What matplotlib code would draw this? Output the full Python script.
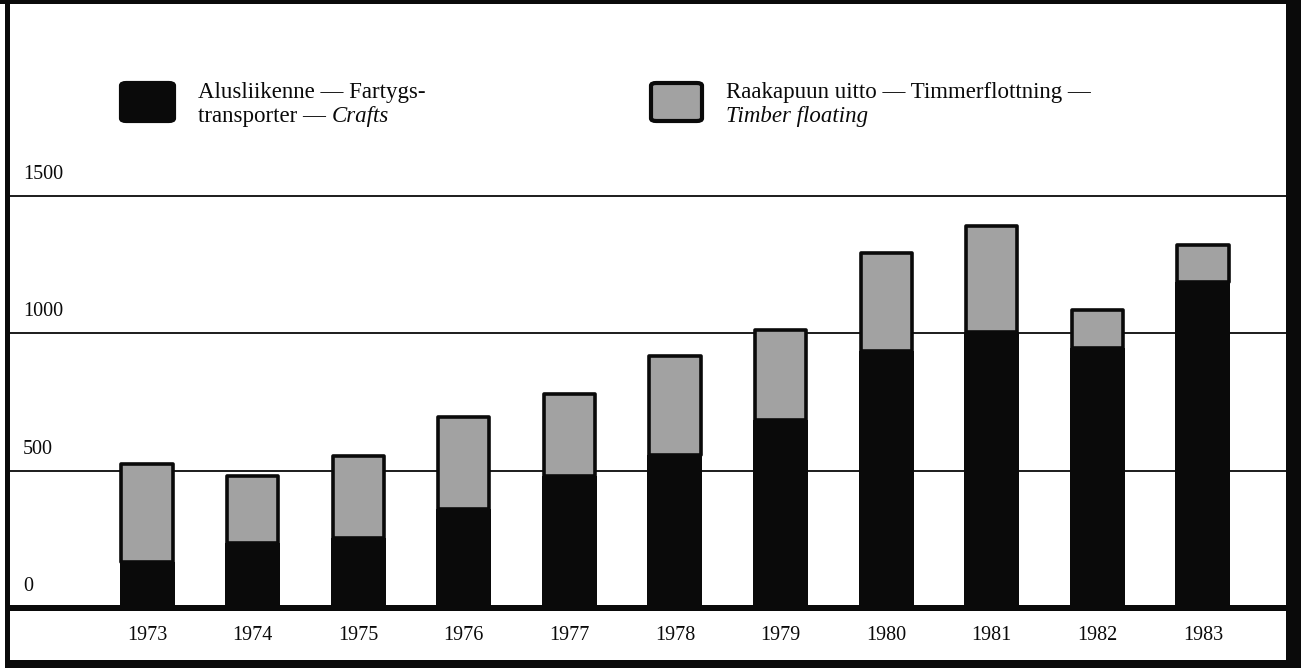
import matplotlib
matplotlib.use("Agg")
import matplotlib.pyplot as plt
from matplotlib.patches import Rectangle, FancyBboxPatch
from matplotlib.transforms import blended_transform_factory

# ---- data ----
years = ["1973", "1974", "1975", "1976", "1977", "1978", "1979", "1980", "1981", "1982", "1983"]
crafts = [169, 237, 254, 361, 479, 558, 683, 936, 1004, 947, 1189]
timber = [361, 251, 305, 340, 307, 367, 336, 364, 392, 145, 138]
yticks = [0, 500, 1000, 1500]
label_crafts = ["Alusliikenne — Fartygs-", "transporter — ", "Crafts"]
label_timber = ["Raakapuun uitto — Timmerflottning —", "Timber floating"]

W, H = 1301, 668
DPI = 100
plt.rcParams["font.family"] = ["Liberation Serif", "DejaVu Serif"]

BLACK = "#0a0a0a"
GREY = "#a2a2a2"

fig = plt.figure(figsize=(W / DPI, H / DPI), dpi=DPI)
fig.patch.set_facecolor("white")

def fx(px):
    return px / W

def fy(py):
    return 1 - py / H

# main axes: x pixels 9..1286, y pixels 4..608 (zero at 608)
ax_l, ax_r, ax_t, ax_b = 9, 1286, 4, 608
ax = fig.add_axes([fx(ax_l), fy(ax_b), fx(ax_r - ax_l), (ax_b - ax_t) / H])
ax.set_facecolor("none")
for s in ax.spines.values():
    s.set_visible(False)
ax.set_xticks([])
ax.set_yticks([])

px_per_unit = 137.3 / 500
ax.set_ylim(0, (ax_b - ax_t) / px_per_unit)
step = 105.6
c0 = 147
ax.set_xlim((ax_l - c0) / step, (ax_r - c0) / step)

# gridlines
for v in yticks[1:]:
    ax.axhline(v, color=BLACK, lw=1.3, zorder=1)

x = list(range(len(years)))
bw_px = 55
bw = bw_px / step
edge_pt = 2.6
edge_px = edge_pt * DPI / 72
ax.bar(x, crafts, width=bw, color=BLACK, edgecolor=BLACK, lw=0, zorder=3)
# keep the outlined grey segment inside the same bar outline
grey_h = [t - (edge_px / 2) / px_per_unit for t in timber]
ax.bar(x, grey_h, bottom=crafts, width=(bw_px - edge_px) / step, color=GREY,
       edgecolor=BLACK, lw=edge_pt, joinstyle="round", zorder=4)

# y labels
tr = blended_transform_factory(fig.transFigure, ax.transData)
for v in yticks:
    ax.annotate(str(v), xy=(fx(23), v), xycoords=tr, xytext=(0, 17),
                textcoords="offset pixels", ha="left", va="baseline",
                fontsize=14.5, color=BLACK)

# year labels
for i, yl in enumerate(years):
    ax.annotate(yl, xy=(i, 0), xycoords="data", xytext=(0, -27),
                textcoords="offset pixels", ha="center", va="center",
                fontsize=14.5, color=BLACK, annotation_clip=False)

# frame pieces (figure-level)
def frect(x0, y0, x1, y1, color=BLACK):
    fig.patches.append(Rectangle((fx(x0), fy(y1)), fx(x1 - x0), (y1 - y0) / H,
                                 transform=fig.transFigure, color=color,
                                 zorder=10, lw=0))

frect(0, 0, W, 4)          # top band
frect(5, 0, 10, H)         # left line
frect(1286, 0, W, H)       # right band
frect(5, 605, 1286, 611)   # baseline
frect(5, 660, W, H)        # bottom band

# legend
def lbox(x0, y0, x1, y1, face):
    fig.patches.append(FancyBboxPatch((fx(x0), fy(y1)), fx(x1 - x0), (y1 - y0) / H,
                                      boxstyle="round,pad=0,rounding_size=0.004",
                                      transform=fig.transFigure, facecolor=face,
                                      edgecolor=BLACK, lw=3, zorder=10))

lbox(121, 83, 174, 121, BLACK)
lbox(651, 83, 702, 121, GREY)

LFS = 16.5
fig.text(fx(198), fy(98), label_crafts[0], fontsize=LFS, va="baseline", ha="left", color=BLACK)
t2 = fig.text(fx(198), fy(122), label_crafts[1], fontsize=LFS, va="baseline", ha="left", color=BLACK)
fig.canvas.draw()
bb = t2.get_window_extent()
fig.text(bb.x1 / W, fy(122), label_crafts[2], fontsize=LFS, va="baseline", ha="left",
         style="italic", color=BLACK)

fig.text(fx(726), fy(98), label_timber[0], fontsize=LFS, va="baseline", ha="left", color=BLACK)
fig.text(fx(726), fy(122), label_timber[1], fontsize=LFS, va="baseline", ha="left",
         style="italic", color=BLACK)

fig.savefig("out.png", dpi=DPI, facecolor="white")
